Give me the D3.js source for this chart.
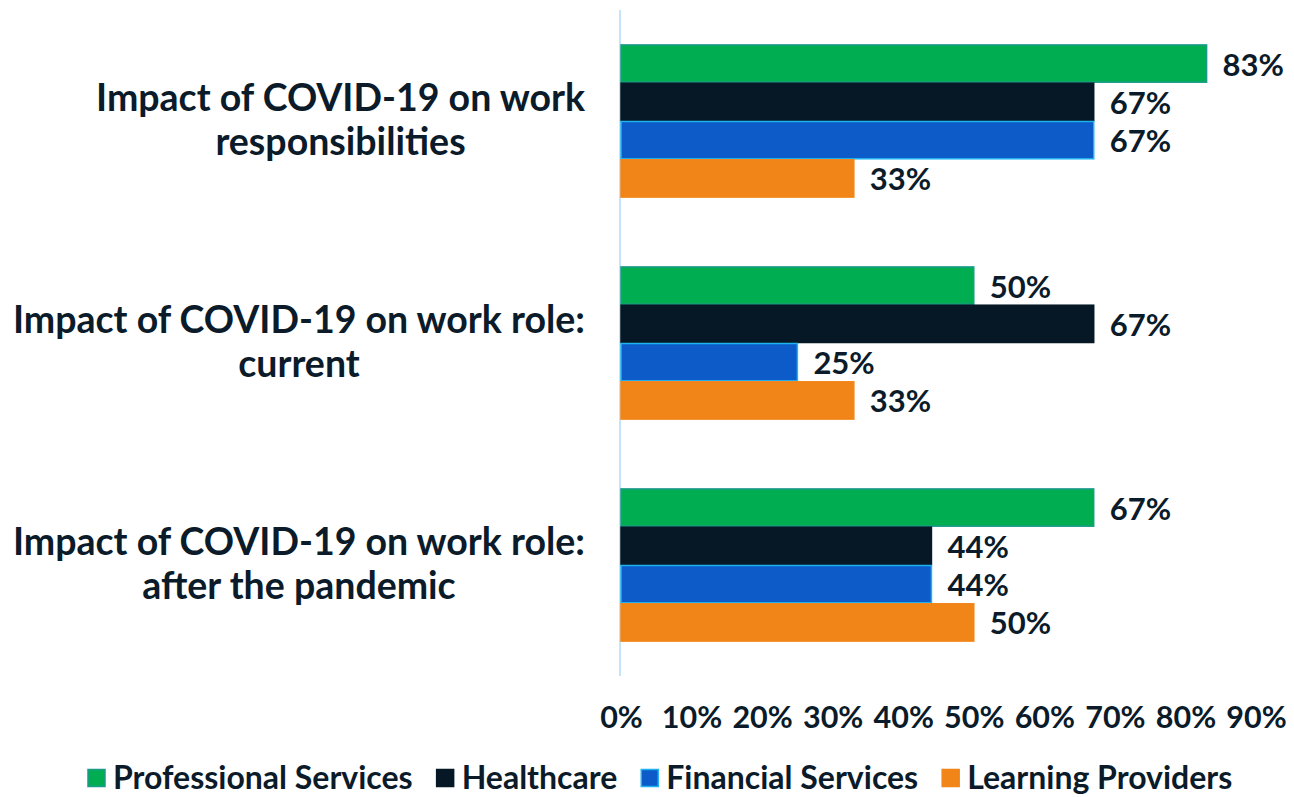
<!DOCTYPE html>
<html>
<head>
<meta charset="utf-8">
<script src="https://cdn.jsdelivr.net/npm/d3@7"></script>
<style>
  html, body { margin: 0; padding: 0; background: #ffffff; }
  svg { display: block; font-family: Lato, "Open Sans", sans-serif; font-weight: 700; }
</style>
</head>
<body>
<svg id="chart" width="1294" height="797"></svg>
<script>
// Survey questions (one group of bars each), split into display lines
const categories = [
  "Impact of COVID-19 on work responsibilities",
  "Impact of COVID-19 on work role: current",
  "Impact of COVID-19 on work role: after the pandemic"
];
const categoryLines = [
  ["Impact of COVID-19 on work", "responsibilities"],
  ["Impact of COVID-19 on work role:", "current"],
  ["Impact of COVID-19 on work role:", "after the pandemic"]
];

// Sectors (series) and their shares per question, in percent
const seriesNames = ["Professional Services", "Healthcare", "Financial Services", "Learning Providers"];
const professionalServices = [83, 50, 67];
const healthcare = [67, 67, 44];
const financialServices = [67, 25, 44];
const learningProviders = [33, 33, 50];

// X axis tick values, in percent
const tickValues = [0, 10, 20, 30, 40, 50, 60, 70, 80, 90];

const seriesValues = [professionalServices, healthcare, financialServices, learningProviders];
const fills = ["#00ad50", "#061826", "#0d5ac9", "#f28518"];
const strokes = ["#1c9a8c", "#061826", "#1fb2f0", "#f28518"];
const textColor = "#0b1b29";

const svg = d3.select("#chart");

const x = d3.scaleLinear().domain([0, 90]).range([621, 1256]);
const y0 = d3.scaleBand().domain(categories).range([10, 676])
  .paddingInner(0.31).paddingOuter(0.155);
const y1 = d3.scaleBand().domain(seriesNames).range([0, y0.bandwidth()]);

// vertical axis line
svg.append("line")
  .attr("x1", x(0) - 1).attr("x2", x(0) - 1)
  .attr("y1", 10).attr("y2", 676)
  .attr("stroke", "#c6e4f8").attr("stroke-width", 2);

// bars and value labels
const groups = svg.append("g").selectAll("g")
  .data(categories)
  .join("g")
  .attr("transform", d => `translate(0,${y0(d)})`);

groups.each(function (cat, ci) {
  const g = d3.select(this);
  const rows = seriesNames.map((name, si) => ({ name, si, value: seriesValues[si][ci] }));
  g.selectAll("rect")
    .data(rows)
    .join("rect")
    .attr("x", x(0))
    .attr("y", d => y1(d.name) + 0.5)
    .attr("width", d => x(d.value) - x(0))
    .attr("height", y1.bandwidth() - 1)
    .attr("fill", d => fills[d.si])
    .attr("stroke", d => strokes[d.si])
    .attr("stroke-width", 1.5);
  g.selectAll("text")
    .data(rows)
    .join("text")
    .attr("x", d => x(d.value) + 16)
    .attr("y", d => y1(d.name) + y1.bandwidth() / 2 + 12)
    .attr("fill", textColor)
    .attr("font-size", 31)
    .text(d => d.value + "%");
});

// category labels: block right-aligned, lines centred within the block
const labelRight = 585;
categories.forEach((cat, ci) => {
  const cy = y0(cat) + y0.bandwidth() / 2;
  const t = svg.append("text")
    .attr("fill", textColor)
    .attr("font-size", 37.5)
    .attr("text-anchor", "middle");
  const lines = categoryLines[ci];
  const spans = lines.map((ln, li) => t.append("tspan")
    .attr("y", cy + (li - (lines.length - 1) / 2) * 44 + 12)
    .text(ln));
  const maxW = d3.max(spans, s => s.node().getComputedTextLength());
  spans.forEach(s => s.attr("x", labelRight - maxW / 2));
});

// x axis tick labels
const axis = d3.axisBottom(x)
  .tickValues(tickValues)
  .tickFormat(d => d + "%")
  .tickSize(0)
  .tickPadding(0);
const axisG = svg.append("g")
  .attr("transform", "translate(0,728)")
  .call(axis);
axisG.select(".domain").remove();
axisG.selectAll("text")
  .attr("font-family", "Lato, sans-serif")
  .attr("font-weight", 700)
  .attr("font-size", 30.5)
  .attr("fill", textColor)
  .attr("dy", 0);

// legend
const legendY = 778;
const legend = svg.append("g");
let lx = 88;
seriesNames.forEach((name, si) => {
  legend.append("rect")
    .attr("x", lx).attr("y", legendY - 8.5)
    .attr("width", 17).attr("height", 17)
    .attr("fill", fills[si])
    .attr("stroke", strokes[si]).attr("stroke-width", 1.5);
  const t = legend.append("text")
    .attr("x", lx + 25).attr("y", legendY + 11)
    .attr("fill", textColor)
    .attr("font-size", 32)
    .text(name);
  lx += 25 + t.node().getComputedTextLength() + 24;
});
</script>
</body>
</html>
